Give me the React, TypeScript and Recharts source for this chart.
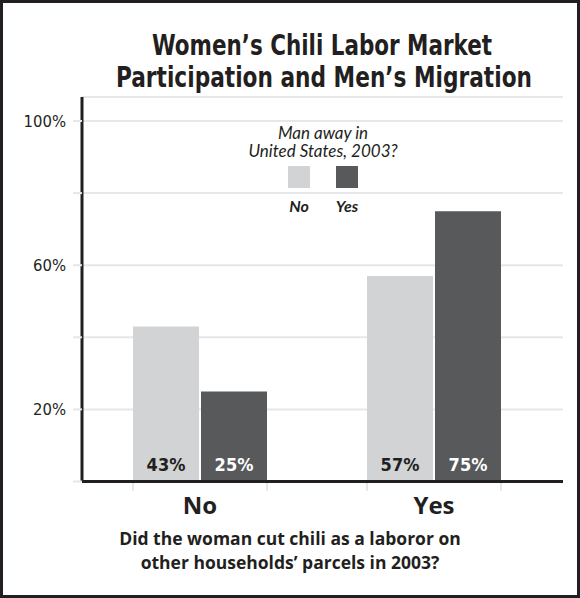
import { Bar, BarChart, CartesianGrid, LabelList, Legend, XAxis, YAxis } from 'recharts';

const categories = ['No', 'Yes'];
const manAwayNo = [43, 57];
const manAwayYes = [25, 75];
const yTicks = [0, 20, 40, 60, 80, 100];
const yLabelled = [20, 60, 100];

const INK = '#231f20';
const LIGHT = '#d1d3d4';
const DARK = '#58595b';
const GRID = '#e6e7e8';
const NARROW = '"DejaVu Sans Condensed", "Liberation Sans Narrow", sans-serif';
const SANS = 'Lato, "Open Sans", sans-serif';
const WIDE = '"Open Sans", Lato, sans-serif';

const data = categories.map((c, i) => ({ cat: c, no: manAwayNo[i], yes: manAwayYes[i] }));

const BAR = 66;
const GAP = 2;

function CategoryTick(props: any) {
  const { x, y, payload } = props;
  const half = BAR + GAP / 2;
  return (
    <g>
      <line x1={x - half} x2={x - half} y1={y - 6.5} y2={y + 1.5} stroke={GRID} strokeWidth={2} />
      <line x1={x + half} x2={x + half} y1={y - 6.5} y2={y + 1.5} stroke={GRID} strokeWidth={2} />
      <text x={x} y={y + 24.5} textAnchor="middle" fill={INK} fontFamily={WIDE} fontWeight={700} fontSize={24}>
        {payload.value}
      </text>
    </g>
  );
}

const barLabel = (color: string) => (props: any) => {
  const { x, y, width, height, value } = props;
  return (
    <text
      x={x + width / 2}
      y={y + height - 10.5}
      textAnchor="middle"
      fill={color}
      fontFamily={NARROW}
      fontWeight={700}
      fontSize={18}
    >
      {value}%
    </text>
  );
};

function LegendBox(props: any) {
  const items = props.payload || [];
  return (
    <div style={{ fontFamily: SANS, color: INK, textAlign: 'center' }}>
      <div style={{ fontStyle: 'italic', fontSize: 17, lineHeight: '18px' }}>Man away in</div>
      <div style={{ fontStyle: 'italic', fontSize: 17, lineHeight: '18px' }}>United States, 2003?</div>
      <div style={{ display: 'flex', justifyContent: 'center', marginTop: 6 }}>
        {items.map((it: any) => (
          <div key={it.value} style={{ width: 48, display: 'flex', flexDirection: 'column', alignItems: 'center' }}>
            <div style={{ width: 22, height: 22, background: it.color }} />
            <div
              style={{
                marginTop: 9,
                fontStyle: 'italic',
                fontWeight: 700,
                fontSize: 16,
                lineHeight: '18px',
              }}
            >
              {it.value}
            </div>
          </div>
        ))}
      </div>
    </div>
  );
}

export default function App() {
  return (
    <div style={{ position: 'absolute', left: 0, top: 0, width: 580, height: 598, background: '#fff' }}>
      <svg
        width={580}
        height={100}
        style={{ position: 'absolute', left: 0, top: 0 }}
        fontFamily={NARROW}
        fontWeight={700}
        fontSize={28}
        fill={INK}
      >
        <text x={322} y={55} textAnchor="middle" textLength={340} lengthAdjust="spacingAndGlyphs">
          Women’s Chili Labor Market
        </text>
        <text x={324} y={87} textAnchor="middle" textLength={416} lengthAdjust="spacingAndGlyphs">
          Participation and Men’s Migration
        </text>
      </svg>
      <BarChart
        width={580}
        height={598}
        data={data}
        margin={{ top: 97, right: 17, bottom: 86.5, left: 0 }}
        barGap={GAP}
        barSize={BAR}
      >
        <CartesianGrid vertical={false} stroke={GRID} strokeWidth={2} />
        <XAxis
          dataKey="cat"
          height={30}
          padding={{ left: 1, right: 12 }}
          axisLine={{ stroke: INK, strokeWidth: 3 }}
          tickLine={false}
          tickSize={8}
          tickMargin={0}
          tick={<CategoryTick />}
          interval={0}
        />
        <YAxis
          width={82}
          domain={[0, 106.66]}
          ticks={yTicks}
          interval={0}
          axisLine={{ stroke: INK, strokeWidth: 3 }}
          tickLine={{ stroke: GRID, strokeWidth: 2 }}
          tickSize={9}
          tickMargin={7}
          tick={{ fill: INK, fontFamily: NARROW, fontSize: 16.5 }}
          tickFormatter={(v: number) => (yLabelled.includes(v) ? `${v}%` : '')}
        />
        <Legend
          layout="horizontal"
          verticalAlign="middle"
          align="center"
          wrapperStyle={{ top: 124, left: 243, width: 160 }}
          content={<LegendBox />}
        />
        <Bar dataKey="no" name="No" fill={LIGHT} isAnimationActive={false}>
          <LabelList dataKey="no" content={barLabel(INK)} />
        </Bar>
        <Bar dataKey="yes" name="Yes" fill={DARK} isAnimationActive={false}>
          <LabelList dataKey="yes" content={barLabel('#ffffff')} />
        </Bar>
      </BarChart>
      <div
        style={{
          position: 'absolute',
          left: 0,
          width: 580,
          top: 526,
          textAlign: 'center',
          fontFamily: WIDE,
          fontWeight: 700,
          fontSize: 17.5,
          lineHeight: '24px',
          color: INK,
        }}
      >
        Did the woman cut chili as a laboror on
        <br />
        other households’ parcels in 2003?
      </div>
      <div
        style={{
          position: 'absolute',
          left: 0,
          top: 0,
          width: 580,
          height: 598,
          boxSizing: 'border-box',
          border: `3px solid ${INK}`,
          pointerEvents: 'none',
        }}
      />
    </div>
  );
}
